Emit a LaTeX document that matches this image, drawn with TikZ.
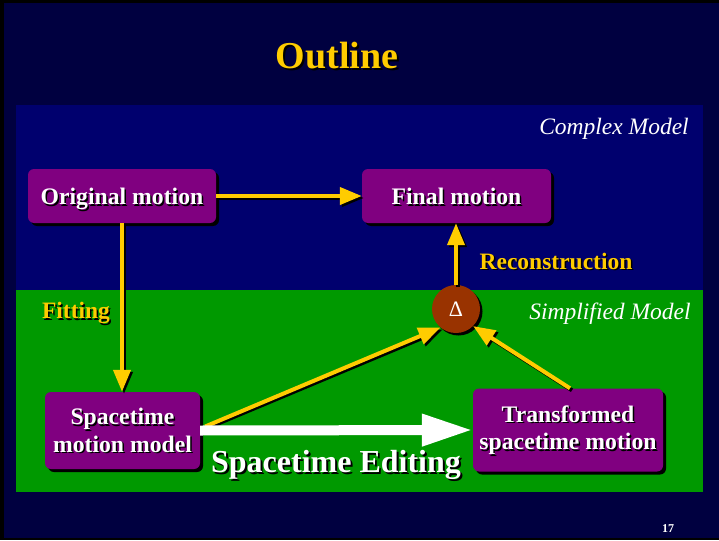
\documentclass[tikz,border=0pt]{standalone}
\usepackage{fontspec}
\setmainfont{Liberation Serif}
\usetikzlibrary{arrows.meta,shadows}

\definecolor{slidebg}{RGB}{0,0,64}
\definecolor{panelblue}{RGB}{0,0,110}
\definecolor{panelgreen}{RGB}{0,153,0}
\definecolor{boxpurple}{RGB}{128,0,128}
\definecolor{flowyellow}{RGB}{255,204,0}
\definecolor{deltabrown}{RGB}{153,51,0}

% text with a small black drop shadow (the shadow takes no room)
\newcommand\shd[2][1.5pt]{\leavevmode\rlap{\kern#1\raisebox{-#1}[0pt][0pt]{\color{black}#2}}#2}

\tikzset{
  stagebox/.style={fill=boxpurple, rounded corners=6pt, text=white,
    font=\fontsize{23.7}{27.5}\selectfont\bfseries, align=center, inner sep=0pt,
    drop shadow={shadow xshift=3pt, shadow yshift=-3pt, fill=black, opacity=1}},
  oneline/.style={text height=21pt, text depth=4pt},
  flowtip/.style={-{Triangle[length=22pt,width=17pt]}},
  flow/.style={flowtip, draw=flowyellow, line width=4pt},
  flowshadow/.style={flowtip, draw=black, line width=4pt},
  editarrow/.style={draw=white, line width=10pt, -{Triangle[length=51pt,width=30pt]}},
  steplabel/.style={text=flowyellow, font=\fontsize{23.5}{27}\selectfont\bfseries},
  modellabel/.style={text=white, font=\fontsize{23.5}{27}\selectfont\itshape},
}

\begin{document}
\begin{tikzpicture}[x=1pt,y=-1pt]
  \useasboundingbox (0,0) rectangle (719,540);
  % slide frame and background
  \fill[black] (0,0) rectangle (719,540);
  \fill[slidebg] (4,3) rectangle (719,538);
  % model panels
  \fill[panelblue] (16,105) rectangle (703,290);
  \fill[panelgreen] (16,290) rectangle (703,492);

  % title
  \node[text=flowyellow, font=\fontsize{38}{44}\selectfont\bfseries] (title) at (337,56) {\shd[2pt]{Outline}};

  % panel captions
  \node[modellabel] (complex) at (614,129) {Complex Model};
  \node[modellabel] (simplified) at (610,314) {Simplified Model};

  % process stages
  \node[stagebox, oneline, minimum width=188pt, minimum height=54pt] (orig) at (122,196) {\shd{Original motion}};
  \node[stagebox, oneline, minimum width=189pt, minimum height=54pt] (final) at (456.5,196) {\shd{Final motion}};
  \node[stagebox, minimum width=155pt, minimum height=77pt] (stm) at (122.5,430.5) {\shd{Spacetime}\\\shd{motion model}};
  \node[stagebox, minimum width=190pt, minimum height=83pt] (trans) at (568,430) {\shd{Transformed}\\\shd{spacetime motion}};
  \node[circle, fill=deltabrown, minimum size=48pt, inner sep=0pt, text=white,
        font=\fontsize{22}{24}\selectfont,
        drop shadow={shadow xshift=2.5pt, shadow yshift=-2.5pt, fill=black, opacity=1}] (delta) at (456,309) {Δ};

  % step labels
  \node[steplabel] (fitting) at (76,313) {\shd{Fitting}};
  \node[steplabel] (recon) at (556,261) {\shd{Reconstruction}};
  \node[text=white, font=\fontsize{32}{36}\selectfont\bfseries] (editing) at (336,465) {\shd[2pt]{Spacetime Editing}};

  % yellow connectors with shadows
  \draw[flowshadow] ([shift={(2,2)}]orig.east) -- ([shift={(2,2)}]final.west);
  \draw[flow] (orig.east) -- (final.west);
  \draw[flowshadow] ([shift={(2,2)}]orig.south) -- ([shift={(2,2)}]orig.south |- stm.north);
  \draw[flow] (orig.south) -- (orig.south |- stm.north);
  \draw[flowshadow] ([shift={(2,2)}]delta.north) -- ([shift={(2,2)}]delta.north |- final.south);
  \draw[flow] (delta.north) -- (delta.north |- final.south);
  \draw[flowshadow] ([shift={(6,-2)}]stm.east) -- ([shift={(2,2)}]delta.230);
  \draw[flow] ([shift={(5,-4)}]stm.east) -- (delta.230);
  \draw[flowshadow] ([shift={(4,2)}]trans.north) -- ([shift={(2,2)}]delta.315);
  \draw[flow] ([shift={(2,0)}]trans.north) -- (delta.315);

  % editing arrow
  \draw[editarrow] (stm.east) -- (trans.west);

  % page number
  \node[text=white, font=\fontsize{12}{14}\selectfont\bfseries] (page) at (668,529) {17};
\end{tikzpicture}
\end{document}
